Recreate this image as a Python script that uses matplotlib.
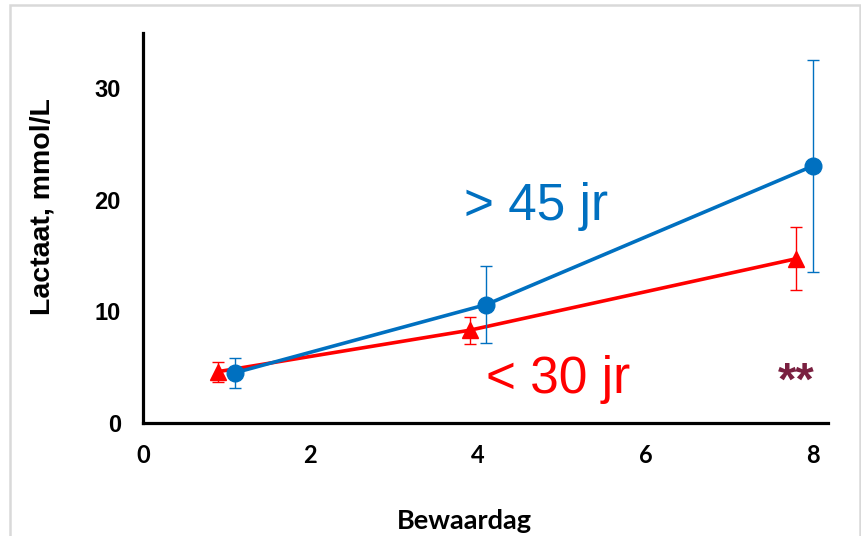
import matplotlib.pyplot as plt
from matplotlib.patches import Rectangle

# Lactaat per bewaardag, twee leeftijdsgroepen (gemiddelde +/- SD)
dagen_oud = [1.1, 4.1, 8.0]
lactaat_oud = [4.5, 10.6, 23.0]
sd_oud = [1.35, 3.45, 9.5]

dagen_jong = [0.9, 3.9, 7.8]
lactaat_jong = [4.6, 8.3, 14.7]
sd_jong = [0.9, 1.2, 2.8]

x_ticks = [0, 2, 4, 6, 8]
y_ticks = [0, 10, 20, 30]

BLAUW = '#0070C0'
ROOD = '#FF0000'

fig = plt.figure(figsize=(8.62, 5.36), dpi=100)
fig.patches.append(Rectangle((10 / 862, -0.01), 850 / 862, 1 - 5 / 536 + 0.01,
                             transform=fig.transFigure, fill=False,
                             edgecolor='#D9D9D9', linewidth=1.8))

ax = fig.add_axes([143 / 862, 1 - 423 / 536, 685 / 862, 390 / 536])

ax.errorbar(dagen_jong, lactaat_jong, yerr=sd_jong, color=ROOD, linewidth=2.6,
            marker='^', markersize=11, elinewidth=1, capsize=4, capthick=1,
            zorder=3)
ax.errorbar(dagen_oud, lactaat_oud, yerr=sd_oud, color=BLAUW, linewidth=2.6,
            marker='o', markersize=12, elinewidth=1, capsize=4, capthick=1,
            zorder=4)

ax.set_xlim(0, 8.18)
ax.set_ylim(0, 34.9)
ax.set_xticks(x_ticks)
ax.set_yticks(y_ticks)
ax.set_xticklabels([str(t) for t in x_ticks], fontfamily='Lato',
                   fontweight='bold', fontsize=17)
ax.set_yticklabels([str(t) for t in y_ticks], fontfamily='Liberation Sans',
                   fontweight='bold', fontsize=17)
ax.tick_params(axis='x', length=0, pad=15)
ax.tick_params(axis='y', length=0, pad=16)

for side in ('top', 'right'):
    ax.spines[side].set_visible(False)
for side in ('left', 'bottom'):
    ax.spines[side].set_linewidth(2.3)

ax.set_ylabel('Lactaat, mmol/L', fontfamily='Liberation Sans',
              fontweight='bold', fontsize=20.5)
ax.yaxis.set_label_coords(-0.128, 0.555)
ax.set_xlabel('Bewaardag', fontfamily='Lato', fontweight='bold', fontsize=19.5)
ax.xaxis.set_label_coords(0.469, -0.22)

# groepslabels en significantie
ax.text(3.83, 18.2, '> 45 jr', color=BLAUW, fontsize=37,
        fontfamily='Liberation Sans', va='baseline', ha='left')
ax.text(4.1, 2.7, '< 30 jr', color=ROOD, fontsize=37,
        fontfamily='Liberation Sans', va='baseline', ha='left')
ax.text(7.8, 3.6, '**', color='#7A2040', fontsize=34, fontweight='bold',
        fontfamily='Liberation Sans', va='center', ha='center')

fig.savefig('out.png', dpi=100)
